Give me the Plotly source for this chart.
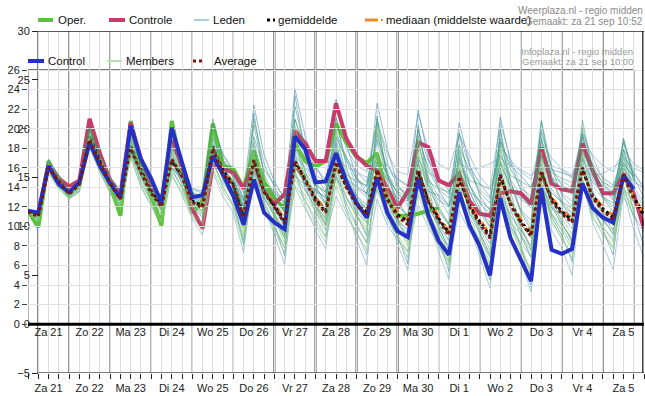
import plotly.graph_objects as go

# ---------------- data (hours since Sat 21 Sep 00:00, 6-hourly) ----------------
hours_wp = list(range(0, 361, 6))   # Weerplaza run
hours_ip = list(range(0, 355, 6))   # Infoplaza run
hours_oper = list(range(0, 241, 6))

day_labels = ["Za 21", "Zo 22", "Ma 23", "Di 24", "Wo 25", "Do 26", "Vr 27", "Za 28",
              "Zo 29", "Ma 30", "Di 1", "Wo 2", "Do 3", "Vr 4", "Za 5"]
day_noon = [12 + 24 * i for i in range(15)]
midnights = [24 * i for i in range(1, 15)]

wp_ticks = [30, 25, 20, 15, 10, 5, 0, -5]
ip_ticks = [26, 24, 22, 20, 18, 16, 14, 12, 10, 8, 6, 4, 2, 0]

oper = [11.6, 9.9, 16.7, 14.4, 13.3, 14.2, 20.8, 16.7, 14.2, 11.1, 20.8, 16.2,
        13.1, 10.1, 20.8, 15.7, 11.4, 12.6, 20.5, 16.2, 15.9, 13.9, 17.7, 14.5,
        12.9, 11.8, 18.5, 16.7, 16.1, 16.7, 20.5, 18.6, 17.1, 16.5, 17.5, 12.9,
        11.1, 11.1, 11.3, 11.6, 11.9]

controle = [11.5, 11.3, 16.4, 14.9, 14.1, 14.7, 21.0, 17.5, 14.7, 13.3, 20.6, 16.9,
            14.3, 12.6, 18.8, 16.2, 11.8, 9.8, 16.3, 15.9, 15.5, 13.9, 16.5, 13.6,
            12.3, 13.3, 19.8, 18.5, 16.7, 16.7, 22.6, 19.0, 17.2, 16.2, 15.7, 13.9,
            11.9, 13.6, 18.6, 18.1, 14.7, 14.2, 15.4, 12.6, 11.3, 11.1, 13.4, 13.6,
            13.4, 12.3, 18.1, 14.4, 13.8, 13.6, 18.5, 15.7, 13.4, 13.4, 15.4, 13.3,
            9.8]

gemiddelde = [11.5, 11.1, 16.2, 14.7, 13.4, 14.4, 19.3, 16.7, 14.5, 13.0, 18.3, 15.7,
              13.6, 12.2, 16.7, 15.2, 12.6, 12.1, 18.2, 15.7, 14.3, 11.1, 16.7, 13.6,
              12.1, 10.5, 16.5, 14.9, 12.8, 11.6, 16.3, 14.1, 12.3, 11.5, 15.5, 12.8,
              11.2, 10.5, 15.6, 12.6, 10.8, 9.3, 14.9, 12.1, 10.5, 9.0, 15.0, 12.4,
              10.5, 9.2, 15.5, 12.8, 11.5, 10.6, 15.8, 13.1, 11.8, 10.9, 15.1, 13.0,
              11.1]

mediaan = [11.5, 11.2, 16.3, 14.8, 13.5, 14.5, 19.1, 16.8, 14.6, 13.1, 18.1, 15.8,
           13.7, 12.3, 16.5, 15.3, 12.7, 12.3, 18.0, 15.8, 14.4, 11.3, 16.5, 13.7,
           12.3, 10.7, 16.2, 14.8, 12.9, 11.8, 16.0, 14.2, 12.4, 11.7, 15.3, 12.9,
           11.4, 10.7, 15.4, 12.8, 11.0, 9.5, 14.7, 12.2, 10.7, 9.2, 14.8, 12.5,
           10.7, 9.4, 15.3, 12.9, 11.7, 10.8, 15.6, 13.2, 12.0, 11.1, 14.9, 13.1,
           11.3]

control = [11.6, 11.4, 16.2, 14.3, 13.5, 14.5, 18.6, 16.2, 14.4, 12.9, 20.3, 16.9,
           14.9, 12.4, 20.1, 16.7, 13.0, 13.2, 17.2, 15.3, 13.1, 10.2, 14.8, 11.4,
           10.4, 9.7, 19.2, 17.9, 14.5, 14.6, 17.5, 14.6, 12.4, 10.9, 15.0, 11.4,
           9.5, 8.9, 14.9, 11.1, 8.5, 7.1, 13.5, 10.1, 8.0, 5.0, 12.9, 8.8,
           6.5, 4.4, 13.9, 7.6, 7.2, 7.7, 14.4, 11.9, 10.9, 10.4, 15.2, 13.8]

average = [11.5, 11.0, 16.0, 14.6, 13.3, 14.3, 18.9, 16.5, 14.4, 12.8, 18.0, 15.5,
           13.4, 12.0, 16.9, 15.1, 12.5, 11.9, 18.0, 15.4, 14.1, 10.9, 16.8, 13.5,
           12.0, 10.3, 16.7, 14.7, 12.6, 11.4, 16.6, 14.0, 12.2, 11.2, 15.8, 12.7,
           11.0, 10.2, 15.8, 12.5, 10.6, 9.1, 15.1, 12.0, 10.3, 8.8, 15.3, 12.2,
           10.4, 9.0, 15.7, 12.6, 11.3, 10.4, 16.0, 12.9, 11.6, 10.7, 15.3, 12.8]

# Weerplaza ensemble members ("Leden")
leden_1 = [11.6, 11.4, 16.8, 15.0, 13.8, 14.9, 20.1, 17.3, 15.1, 13.6, 19.5, 16.4,
           14.2, 12.8, 18.0, 16.1, 13.5, 12.9, 19.6, 16.8, 15.4, 12.6, 19.2, 15.8,
           14.3, 13.0, 21.0, 18.2, 15.9, 14.8, 19.7, 17.0, 15.6, 14.5, 18.9, 16.1,
           14.9, 14.2, 19.8, 16.7, 15.1, 13.6, 19.5, 16.2, 14.4, 13.0, 18.7, 16.3,
           15.2, 14.0, 17.1, 15.8, 15.5, 15.1, 17.9, 16.4, 15.0, 14.2, 17.3, 15.4,
           14.1]
leden_2 = [11.3, 10.6, 15.5, 14.0, 12.9, 13.6, 18.4, 15.8, 13.7, 12.2, 17.5, 14.6,
           12.6, 10.8, 15.9, 14.0, 11.4, 10.2, 16.9, 14.1, 12.1, 8.6, 14.5, 11.6,
           9.9, 7.8, 14.2, 12.7, 10.4, 8.9, 13.1, 11.0, 9.5, 7.1, 12.8, 10.1,
           8.6, 7.4, 12.2, 9.9, 8.1, 6.3, 11.6, 9.5, 7.9, 5.6, 12.4, 10.0,
           8.3, 6.9, 13.8, 11.2, 9.6, 8.4, 14.1, 11.5, 9.9, 8.7, 13.0, 11.2,
           9.4]
leden_3 = [11.5, 10.9, 16.5, 14.8, 13.2, 14.0, 19.0, 16.2, 14.0, 12.4, 18.9, 15.9,
           13.1, 11.7, 17.4, 15.0, 12.0, 10.9, 19.9, 15.2, 13.5, 9.9, 21.6, 15.1,
           11.3, 9.1, 23.4, 17.6, 13.7, 12.2, 18.6, 14.2, 11.2, 9.0, 21.3, 14.8,
           10.7, 8.8, 20.4, 13.9, 10.1, 7.5, 18.2, 12.6, 9.4, 6.8, 19.8, 13.5,
           9.9, 7.6, 18.9, 12.9, 10.4, 8.5, 19.2, 13.7, 11.3, 9.6, 18.0, 13.1,
           10.2]
leden_4 = [11.4, 11.0, 15.9, 14.5, 13.6, 14.5, 18.7, 16.5, 14.8, 13.4, 17.8, 15.6,
           13.9, 12.9, 16.2, 14.9, 13.2, 12.8, 17.1, 15.4, 14.6, 13.0, 15.8, 14.4,
           13.6, 12.8, 17.2, 16.0, 15.2, 14.6, 16.9, 16.1, 15.6, 15.0, 16.3, 15.7,
           14.8, 14.1, 16.8, 15.5, 14.9, 14.4, 16.5, 15.8, 16.0, 16.4, 17.0, 16.2,
           15.8, 15.2, 16.1, 15.0, 14.6, 14.0, 15.8, 15.2, 15.4, 16.1, 16.8, 16.0,
           15.5]
leden_5 = [11.6, 10.8, 16.0, 14.3, 13.0, 13.8, 18.9, 16.0, 13.9, 12.0, 18.1, 15.1,
           12.7, 10.9, 17.0, 14.3, 11.6, 9.8, 17.6, 14.7, 12.8, 8.2, 16.9, 12.5,
           10.3, 7.0, 17.5, 14.0, 11.5, 9.6, 15.2, 12.4, 10.2, 8.3, 14.6, 11.0,
           9.0, 6.2, 15.4, 11.3, 8.7, 5.4, 13.9, 10.2, 7.6, 4.5, 14.3, 10.5,
           8.0, 3.8, 15.1, 11.0, 9.1, 6.4, 16.0, 12.1, 9.6, 7.1, 15.6, 11.4,
           7.9]
leden_6 = [11.5, 11.2, 16.4, 15.1, 13.7, 14.7, 19.6, 17.0, 14.9, 13.3, 18.8, 16.2,
           14.0, 12.6, 17.5, 15.8, 13.1, 12.7, 18.9, 16.5, 15.0, 11.9, 18.3, 14.6,
           13.0, 11.4, 19.8, 17.1, 14.6, 13.1, 20.5, 16.8, 14.2, 13.3, 18.6, 15.2,
           13.4, 12.1, 18.2, 15.0, 13.0, 11.2, 17.6, 14.3, 12.5, 10.8, 16.7, 14.8,
           13.2, 11.9, 18.0, 15.1, 13.4, 12.6, 18.3, 14.9, 13.1, 12.0, 17.2, 14.0,
           12.4]
leden_7 = [11.4, 11.0, 15.8, 14.2, 13.1, 14.1, 18.8, 16.3, 14.2, 12.6, 17.6, 15.2,
           13.2, 11.6, 16.1, 14.6, 12.3, 11.6, 17.8, 15.0, 13.8, 10.3, 15.4, 12.8,
           11.2, 9.6, 15.3, 13.7, 12.0, 10.9, 17.4, 14.6, 12.8, 11.9, 14.4, 12.0,
           10.6, 9.7, 14.1, 11.8, 10.2, 8.6, 13.5, 11.4, 10.0, 8.2, 13.4, 11.1,
           9.6, 8.0, 14.2, 11.9, 11.2, 9.8, 14.6, 12.3, 11.0, 10.2, 13.9, 12.5,
           11.8]
leden_8 = [11.5, 11.3, 16.3, 14.9, 13.5, 14.3, 19.4, 16.9, 14.6, 13.1, 18.6, 16.0,
           13.8, 12.4, 17.1, 15.6, 12.8, 12.2, 18.5, 16.0, 14.2, 11.3, 17.6, 14.0,
           12.5, 10.9, 18.7, 16.6, 14.1, 12.4, 21.1, 18.0, 16.2, 15.6, 20.7, 17.5,
           15.6, 15.3, 21.5, 17.8, 16.4, 15.8, 19.4, 17.2, 15.1, 13.9, 20.6, 16.9,
           14.3, 12.6, 19.9, 16.2, 15.8, 14.9, 19.6, 17.1, 14.8, 13.5, 18.6, 15.6,
           13.7]
leden_9 = [11.5, 11.1, 16.6, 15.2, 13.9, 14.6, 19.9, 17.2, 15.0, 13.5, 19.2, 16.6,
           14.4, 13.0, 18.6, 16.5, 13.9, 13.6, 20.3, 17.4, 15.8, 13.4, 22.4, 17.3,
           14.6, 12.8, 24.1, 19.2, 16.4, 14.2, 23.0, 18.4, 15.1, 13.2, 22.6, 17.9,
           14.3, 12.8, 21.9, 17.0, 13.7, 12.1, 20.6, 16.4, 13.1, 11.6, 21.2, 16.6,
           13.6, 12.3, 20.8, 16.0, 13.2, 12.0, 19.5, 15.6, 14.0, 12.7, 19.0, 15.1,
           12.9]
leden_10 = [11.4, 10.7, 15.7, 14.1, 12.8, 13.6, 18.2, 15.5, 13.4, 11.6, 17.2, 14.0,
            12.1, 10.0, 15.4, 13.2, 10.8, 9.1, 15.6, 13.0, 11.4, 7.3, 15.9, 11.8,
            9.2, 6.1, 15.8, 12.1, 9.6, 7.7, 16.4, 11.9, 8.7, 6.0, 16.9, 11.4,
            8.2, 5.5, 15.7, 10.8, 7.4, 4.6, 14.6, 10.1, 6.9, 3.7, 13.2, 9.0,
            6.6, 3.3, 13.6, 9.6, 7.8, 5.0, 14.8, 10.4, 8.1, 5.6, 13.5, 9.7,
            6.8]
leden_11 = [11.5, 11.2, 16.1, 14.6, 13.4, 14.2, 19.1, 16.6, 14.5, 13.0, 18.4, 15.9,
            13.7, 12.3, 16.4, 15.0, 12.6, 12.4, 17.3, 15.5, 14.7, 12.0, 14.6, 13.8,
            13.3, 12.5, 15.1, 14.3, 13.8, 12.9, 18.3, 15.2, 13.1, 12.2, 17.4, 14.0,
            12.9, 12.6, 14.3, 13.6, 13.2, 12.1, 17.0, 14.2, 12.4, 11.3, 16.6, 13.9,
            12.8, 12.0, 14.2, 13.4, 12.5, 11.4, 17.0, 14.5, 13.6, 13.0, 15.9, 14.6,
            13.9]
leden_12 = [11.6, 11.1, 16.5, 14.8, 13.3, 14.2, 19.2, 16.5, 14.3, 12.7, 18.5, 15.5,
            13.4, 11.9, 17.8, 15.4, 12.4, 11.5, 19.2, 15.8, 14.0, 10.4, 18.6, 14.1,
            11.9, 9.8, 17.9, 15.1, 12.3, 10.6, 18.9, 15.6, 13.9, 13.0, 19.4, 15.6,
            12.5, 11.0, 17.2, 13.9, 11.8, 10.2, 16.8, 13.6, 11.4, 9.9, 17.9, 14.1,
            11.6, 10.1, 17.4, 13.8, 12.4, 11.2, 17.3, 14.1, 12.9, 12.0, 16.4, 13.7,
            12.0]
leden_13 = [11.4, 10.9, 16.0, 14.5, 13.2, 14.0, 18.9, 16.3, 14.1, 12.5, 17.9, 15.3,
            13.3, 11.8, 16.6, 14.8, 12.2, 11.2, 17.2, 15.1, 13.6, 10.0, 17.3, 13.0,
            11.0, 8.8, 16.9, 14.2, 12.2, 10.2, 15.1, 13.0, 11.5, 10.3, 16.2, 12.5,
            10.3, 8.9, 16.7, 12.2, 9.8, 7.9, 15.5, 11.4, 9.3, 7.2, 16.1, 11.7,
            9.0, 6.9, 16.4, 12.0, 10.2, 8.6, 16.9, 12.4, 10.6, 9.3, 16.2, 12.6,
            10.5]
leden_14 = [11.5, 11.2, 16.2, 14.8, 13.6, 14.6, 19.0, 16.8, 14.7, 13.2, 18.0, 15.8,
            13.7, 12.4, 16.9, 15.4, 12.9, 12.4, 18.4, 16.0, 14.5, 11.6, 16.4, 14.2,
            12.6, 11.0, 18.1, 15.9, 14.3, 13.5, 19.1, 17.2, 14.8, 13.9, 17.6, 15.3,
            13.9, 13.5, 18.9, 16.1, 14.2, 13.3, 17.9, 15.9, 13.8, 12.8, 18.2, 16.8,
            15.6, 14.8, 18.7, 17.0, 15.9, 15.2, 18.9, 17.3, 16.2, 15.6, 17.8, 16.4,
            15.8]

# Infoplaza ensemble members ("Members")
members_1 = [11.6, 11.2, 16.6, 14.6, 13.4, 14.3, 19.8, 16.6, 14.4, 13.0, 19.6, 16.3,
             13.8, 12.5, 19.1, 16.0, 13.1, 12.6, 19.2, 16.1, 14.6, 11.4, 17.9, 13.9,
             12.2, 10.4, 18.6, 15.6, 13.2, 11.6, 17.8, 14.6, 12.6, 11.8, 19.7, 15.3,
             12.0, 11.2, 18.8, 14.4, 11.6, 10.1, 17.2, 13.5, 11.5, 10.4, 18.6, 14.6,
             11.7, 10.6, 19.1, 14.9, 12.6, 11.8, 19.4, 15.3, 13.0, 12.4, 17.9, 14.7]
members_2 = [11.5, 10.7, 15.9, 14.2, 13.0, 13.9, 18.5, 16.0, 14.0, 12.3, 17.4, 14.9,
             12.9, 11.3, 15.6, 14.1, 11.9, 11.0, 16.4, 14.4, 13.0, 9.8, 14.6, 12.2,
             10.5, 8.9, 14.8, 13.1, 11.6, 10.1, 15.6, 12.9, 11.1, 10.0, 13.8, 11.4,
             9.8, 8.4, 14.5, 11.1, 9.4, 7.7, 12.6, 10.2, 8.7, 6.9, 13.0, 10.4,
             9.2, 7.4, 13.9, 11.3, 10.1, 8.9, 14.4, 11.6, 10.7, 9.5, 13.6, 11.9]
members_3 = [11.6, 11.3, 16.9, 15.2, 13.9, 14.8, 20.2, 17.4, 15.0, 13.7, 19.0, 16.5,
             14.4, 13.1, 17.9, 16.3, 13.8, 13.4, 20.6, 17.2, 15.6, 12.8, 21.0, 16.4,
             14.0, 12.2, 20.9, 17.8, 15.1, 13.6, 19.2, 16.8, 14.9, 14.1, 21.0, 16.6,
             14.0, 13.2, 19.3, 15.8, 13.8, 12.9, 18.4, 15.6, 13.5, 12.4, 19.0, 15.9,
             13.9, 13.1, 19.6, 16.0, 14.2, 13.6, 20.1, 16.2, 14.4, 13.3, 18.6, 15.2]
members_4 = [11.4, 10.5, 15.4, 13.8, 12.8, 13.5, 18.0, 15.6, 13.5, 11.8, 17.0, 14.2,
             12.2, 10.4, 15.1, 13.5, 11.1, 9.6, 15.9, 13.6, 12.0, 8.0, 15.3, 11.9,
             9.6, 7.2, 14.0, 11.8, 10.1, 8.4, 14.2, 11.4, 9.3, 7.6, 14.9, 11.2,
             8.9, 6.8, 13.3, 10.4, 8.0, 5.9, 14.1, 10.6, 7.3, 4.8, 12.9, 9.8,
             7.5, 5.6, 14.3, 10.7, 8.6, 7.3, 15.0, 11.1, 9.1, 7.9, 14.2, 10.9]
members_5 = [11.5, 11.0, 16.2, 14.6, 13.3, 14.2, 19.1, 16.5, 14.3, 12.8, 18.2, 15.6,
             13.4, 12.0, 16.8, 15.1, 12.5, 11.9, 18.0, 15.5, 14.0, 10.9, 16.4, 13.3,
             11.8, 10.1, 16.0, 14.4, 12.5, 11.1, 16.8, 13.9, 12.0, 11.0, 15.9, 12.9,
             11.1, 10.2, 15.2, 12.3, 10.6, 9.0, 15.4, 12.0, 10.1, 8.7, 15.6, 12.6,
             10.3, 8.8, 16.0, 12.7, 11.4, 10.3, 16.2, 13.0, 11.6, 10.5, 15.3, 12.8]
members_6 = [11.4, 10.9, 16.7, 14.9, 13.2, 14.1, 19.5, 16.4, 14.1, 12.5, 19.2, 15.8,
             13.0, 11.2, 18.4, 15.2, 12.0, 11.3, 19.4, 15.3, 13.1, 9.2, 18.8, 14.0,
             10.8, 8.3, 20.4, 15.5, 12.0, 10.0, 19.9, 14.8, 11.3, 9.2, 20.1, 13.9,
             10.5, 8.6, 18.9, 13.2, 9.6, 7.1, 17.7, 12.1, 9.1, 6.2, 18.2, 12.8,
             9.4, 6.8, 17.6, 12.4, 10.0, 7.9, 18.1, 13.0, 10.9, 9.1, 17.2, 12.6]
members_7 = [11.5, 11.1, 15.8, 14.4, 13.5, 14.4, 18.9, 16.6, 14.6, 13.2, 17.9, 15.7,
             13.9, 12.8, 16.5, 15.3, 13.3, 12.9, 17.4, 15.6, 14.5, 12.6, 16.2, 14.6,
             13.5, 12.4, 16.8, 15.4, 14.2, 13.5, 16.3, 14.9, 14.0, 13.4, 16.6, 14.8,
             13.6, 12.9, 17.1, 14.6, 13.9, 13.5, 16.0, 14.7, 14.3, 13.8, 17.3, 15.2,
             14.6, 14.0, 16.8, 15.5, 14.9, 14.5, 17.5, 15.9, 14.5, 14.0, 16.4, 15.1]
members_8 = [11.6, 11.0, 16.1, 14.5, 13.1, 14.0, 19.0, 16.2, 14.2, 12.7, 18.5, 15.4,
             13.3, 11.9, 17.3, 15.0, 12.4, 11.4, 18.2, 15.1, 13.6, 10.2, 17.1, 13.2,
             11.4, 9.4, 17.2, 13.8, 11.9, 10.3, 16.2, 13.0, 11.0, 9.6, 15.1, 11.9,
             10.1, 8.0, 16.3, 11.6, 9.2, 6.6, 15.6, 11.1, 8.4, 5.9, 14.9, 10.9,
             8.1, 5.2, 15.7, 11.4, 9.5, 7.6, 16.4, 11.9, 10.0, 8.4, 15.0, 11.8]
members_9 = [11.5, 11.1, 16.8, 15.0, 13.6, 14.6, 20.0, 17.0, 14.8, 13.4, 20.1, 16.7,
             14.3, 12.9, 19.7, 16.5, 13.5, 13.0, 21.0, 16.8, 15.0, 12.1, 20.4, 15.3,
             13.1, 11.4, 22.3, 17.9, 14.2, 12.3, 21.2, 16.1, 13.1, 11.7, 20.6, 15.2,
             12.5, 10.9, 20.1, 14.9, 12.0, 10.3, 19.6, 14.3, 11.8, 10.0, 20.0, 14.7,
             11.4, 9.7, 20.8, 14.9, 12.3, 10.8, 20.9, 15.6, 12.9, 11.5, 19.0, 14.8]
members_10 = [11.5, 10.8, 15.6, 14.0, 12.9, 13.7, 18.2, 15.7, 13.6, 11.9, 17.6, 14.5,
              12.5, 10.6, 16.0, 13.8, 11.3, 10.3, 16.6, 13.9, 12.4, 8.7, 16.1, 12.3,
              10.1, 7.8, 15.6, 12.6, 10.9, 9.0, 15.0, 11.9, 10.0, 8.3, 13.9, 10.6,
              9.1, 7.4, 14.0, 10.4, 8.6, 6.4, 13.3, 9.8, 8.0, 5.4, 13.8, 10.0,
              7.9, 5.0, 14.6, 10.4, 8.9, 6.8, 14.7, 10.8, 9.6, 7.7, 13.9, 10.9]
members_11 = [11.6, 11.2, 16.0, 14.5, 13.4, 14.3, 18.7, 16.4, 14.5, 13.1, 17.6, 15.5,
              13.6, 12.5, 16.0, 14.9, 12.9, 12.5, 17.0, 15.2, 14.2, 12.0, 15.6, 14.0,
              12.9, 11.9, 16.1, 14.6, 13.6, 13.0, 17.6, 15.3, 14.6, 14.2, 17.2, 15.4,
              13.3, 12.7, 16.4, 14.2, 12.7, 12.0, 15.7, 13.6, 12.6, 11.8, 16.4, 14.1,
              13.0, 12.3, 17.3, 14.9, 13.9, 13.3, 17.8, 15.6, 14.1, 13.4, 16.6, 15.0]
members_12 = [11.4, 10.9, 16.4, 14.7, 13.2, 14.1, 19.3, 16.3, 14.2, 12.6, 18.8, 15.6,
              13.2, 11.6, 17.8, 15.0, 12.2, 11.6, 18.7, 15.2, 13.5, 9.9, 17.6, 13.4,
              11.1, 8.9, 18.9, 14.8, 12.4, 10.6, 18.1, 14.2, 11.8, 10.4, 17.5, 12.8,
              10.9, 9.3, 17.8, 12.9, 10.2, 8.4, 16.5, 11.9, 9.8, 7.6, 17.0, 12.0,
              10.0, 7.9, 16.9, 12.1, 10.8, 9.2, 17.6, 12.8, 11.4, 10.1, 16.5, 12.4]

leden = [leden_1, leden_2, leden_3, leden_4, leden_5, leden_6, leden_7,
         leden_8, leden_9, leden_10, leden_11, leden_12, leden_13, leden_14]
members = [members_1, members_2, members_3, members_4, members_5, members_6,
           members_7, members_8, members_9, members_10, members_11, members_12]

# ---------------- styling ----------------
W, H = 645, 396
ML, MR, MT, MB = 28, 1, 31, 23
PW, PH = W - ML - MR, H - MT - MB

def px(xp):
    return (xp - ML) / PW

def py(yp):
    return (H - MB - yp) / PH

C_OPER = "#5cc23a"
C_CTRL = "#c83a6c"
C_BLUE = "#2431c4"
C_AVG = "#7a1410"
C_MED = "#f08a24"
FONT = "Liberation Sans, Arial, sans-serif"

fig = go.Figure()

leden_cols = ["rgba(70,140,180,0.6)", "rgba(125,178,205,0.7)"]
member_cols = ["rgba(60,155,110,0.55)", "rgba(130,200,120,0.65)"]

for i, m in enumerate(leden):
    fig.add_trace(go.Scatter(x=hours_wp, y=m, mode="lines", xaxis="x", yaxis="y2",
                             line=dict(color=leden_cols[i % 2], width=1),
                             showlegend=False, hoverinfo="skip"))
for i, m in enumerate(members):
    fig.add_trace(go.Scatter(x=hours_ip, y=m, mode="lines", xaxis="x2", yaxis="y",
                             line=dict(color=member_cols[i % 2], width=1),
                             showlegend=False, hoverinfo="skip"))

fig.add_trace(go.Scatter(x=hours_oper, y=oper, mode="lines", xaxis="x", yaxis="y2",
                         line=dict(color=C_OPER, width=4), name="Oper.", showlegend=False))
fig.add_trace(go.Scatter(x=hours_wp, y=controle, mode="lines", xaxis="x", yaxis="y2",
                         line=dict(color=C_CTRL, width=4), name="Controle", showlegend=False))
fig.add_trace(go.Scatter(x=hours_ip, y=control, mode="lines", xaxis="x2", yaxis="y",
                         line=dict(color=C_BLUE, width=4), name="Control", showlegend=False))
fig.add_trace(go.Scatter(x=hours_wp, y=mediaan, mode="lines", xaxis="x", yaxis="y2",
                         line=dict(color=C_MED, width=3, dash="dash"), name="mediaan", showlegend=False))
fig.add_trace(go.Scatter(x=hours_wp, y=gemiddelde, mode="lines", xaxis="x", yaxis="y2",
                         line=dict(color="black", width=3, dash="dot"), name="gemiddelde", showlegend=False))
fig.add_trace(go.Scatter(x=hours_ip, y=average, mode="lines", xaxis="x2", yaxis="y",
                         line=dict(color=C_AVG, width=3, dash="dot"), name="Average", showlegend=False))

shapes = []
# midnight lines
for h in midnights:
    thick = 144 <= h <= 216
    shapes.append(dict(type="line", xref="x", yref="y", x0=h, x1=h, y0=-5, y1=30,
                       line=dict(color="#555555" if thick else "#111111", width=2 if thick else 1),
                       layer="below"))
# frames
shapes += [
    dict(type="line", xref="x", yref="y", x0=6, x1=360, y0=30, y1=30, line=dict(color="#222", width=1.5)),
    dict(type="line", xref="x", yref="y", x0=0, x1=354, y0=26, y1=26, line=dict(color="#777", width=2), layer="below"),
    dict(type="line", xref="x", yref="y", x0=0, x1=360, y0=0, y1=0, line=dict(color="black", width=3)),
    dict(type="line", xref="x", yref="y", x0=6, x1=360, y0=-5, y1=-5, line=dict(color="black", width=1.2)),
    dict(type="line", xref="x", yref="y", x0=6, x1=6, y0=-5, y1=30, line=dict(color="black", width=1.5), layer="below"),
    dict(type="line", xref="x", yref="y", x0=0, x1=0, y0=0, y1=26, line=dict(color="#666", width=1), layer="below"),
    dict(type="line", xref="x", yref="y", x0=354, x1=354, y0=0, y1=26, line=dict(color="#111", width=1.2), layer="below"),
    dict(type="line", xref="x", yref="y", x0=359.3, x1=359.3, y0=-5, y1=30, line=dict(color="#111", width=1.2)),
]

# legend swatches
def swatch(x0, x1, yp, color, width, dash="solid"):
    return dict(type="line", xref="paper", yref="paper", x0=px(x0), x1=px(x1), y0=py(yp), y1=py(yp),
                line=dict(color=color, width=width, dash=dash))

shapes += [
    swatch(38, 53, 20, C_OPER, 4),
    swatch(109, 125, 20, C_CTRL, 4),
    swatch(194, 209, 20, "#a9cce0", 2),
    swatch(267, 275, 20, "black", 3, "dot"),
    swatch(365, 378, 20, C_MED, 3),
    swatch(381, 383, 20, C_MED, 2),
    swatch(28, 44, 61, C_BLUE, 4),
    swatch(107, 122, 61, "#b9e0b0", 2),
    swatch(193, 202, 61, C_AVG, 3, "dot"),
]

annotations = []
def label(text, xp, yp, size=11.5, color="#111", anchor="left"):
    annotations.append(dict(text=text, x=px(xp), y=py(yp), xref="paper", yref="paper",
                            xanchor=anchor, yanchor="middle", showarrow=False, borderpad=0,
                            font=dict(family=FONT, size=size, color=color)))

label("Oper.", 57, 20)
label("Controle", 128, 20)
label("Leden", 212, 20)
label("gemiddelde", 277, 20)
label("mediaan (middelste waarde)", 385, 20)
label("Control", 47, 61)
label("Members", 125, 61)
label("Average", 213, 61)
label("Weerplaza.nl - regio midden", 644, 10, size=10, color="#8a8a8a", anchor="right")
label("Gemaakt: za 21 sep 10:52", 644, 22, size=10, color="#8a8a8a", anchor="right")
label("Infoplaza.nl - regio midden", 634, 51, size=9.5, color="#999999", anchor="right")
label("Gemaakt: za 21 sep 10:00", 634, 61, size=9.5, color="#999999", anchor="right")

tickfont = dict(family=FONT, size=11, color="#222")

fig.update_layout(
    width=W, height=H,
    margin=dict(l=ML, r=MR, t=MT, b=MB, pad=0, autoexpand=False),
    paper_bgcolor="white", plot_bgcolor="rgba(0,0,0,0)",
    showlegend=False,
    shapes=shapes, annotations=annotations,
    xaxis=dict(range=[0, 360], domain=[0, 1], anchor="y", automargin=False,
               tickmode="array", tickvals=day_noon, ticktext=day_labels,
               ticks="outside", ticklen=5, tickcolor="#222", tickfont=tickfont,
               showgrid=True, gridcolor="#dedede", gridwidth=1,
               minor=dict(tickmode="linear", tick0=0, dtick=6, ticks="outside", ticklen=5,
                          tickcolor="#222", showgrid=True, gridcolor="#dedede"),
               showline=False, zeroline=False, fixedrange=True),
    xaxis2=dict(range=[0, 360], overlaying="x", anchor="free", position=py(324), automargin=False,
                side="bottom", tickmode="array", tickvals=day_noon, ticktext=day_labels,
                ticks="", tickfont=tickfont, showgrid=False, showline=False, zeroline=False),
    yaxis=dict(range=[-5, 30], domain=[0, 1], anchor="x", automargin=False,
               tickmode="array", tickvals=ip_ticks, ticks="outside", ticklen=5,
               tickcolor="#444", tickfont=tickfont, showgrid=True, gridcolor="#e2e2e2",
               showline=False, zeroline=False),
    yaxis2=dict(range=[-5, 30], overlaying="y", anchor="free", position=px(38), side="left",
                automargin=False,
                tickmode="array", tickvals=wp_ticks, ticks="outside", ticklen=6,
                tickcolor="#222", tickfont=tickfont, showgrid=False, showline=False,
                zeroline=False),
)

fig.write_html("out.html",
               config={"displayModeBar": False},
               post_script="document.body.style.margin='0px';document.body.style.overflow='hidden';")
